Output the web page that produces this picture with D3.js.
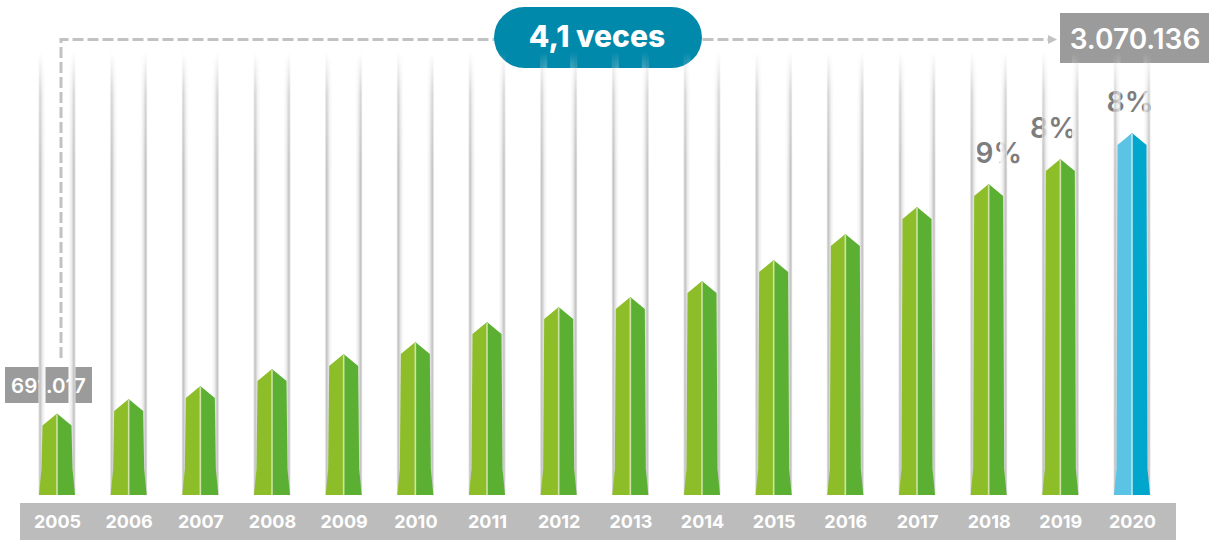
<!DOCTYPE html>
<html>
<head>
<meta charset="utf-8">
<script src="https://cdn.jsdelivr.net/npm/d3@7"></script>
<style>
  html, body { margin: 0; padding: 0; background: #ffffff; }
  svg { display: block; }
</style>
</head>
<body>
<svg id="chart" width="1209" height="540"></svg>
<script>
// ---- data ----
const years = ["2005","2006","2007","2008","2009","2010","2011","2012","2013","2014","2015","2016","2017","2018","2019","2020"];
const visitors = [691017, 814000, 924000, 1069000, 1196000, 1298000, 1467000, 1595000, 1679000, 1815000, 1993000, 2214000, 2443000, 2638000, 2850000, 3070136];
const growthLabels = ["","","","","","","","","","","","","","9%","8%","8%"];
const firstLabel = "691.017";
const lastLabel = "3.070.136";
const multiplierLabel = "4,1 veces";
const highlightYear = "2020";

// ---- layout ----
const W = 1209, H = 540;
const baseY = 495;
const svg = d3.select("#chart");
const font = "Inter, 'DejaVu Sans', sans-serif";

const x = d3.scalePoint().domain(years).range([57, 1132]);
const y = d3.scaleLinear().domain([0, 3070136]).range([baseY, 133]);

const defs = svg.append("defs");
function edgeGrad(id, x1, x2) {
  const g = defs.append("linearGradient").attr("id", id).attr("x1", x1).attr("x2", x2).attr("y1", "0").attr("y2", "0");
  g.append("stop").attr("offset", 0).attr("stop-color", "#e4e4e4");
  g.append("stop").attr("offset", 0.22).attr("stop-color", "#c2c2c2");
  g.append("stop").attr("offset", 0.6).attr("stop-color", "#eeeeee");
  g.append("stop").attr("offset", 1).attr("stop-color", "#ffffff");
}
edgeGrad("edgeL", "0", "1");
edgeGrad("edgeR", "1", "0");
// vertical fade mask
const mg = defs.append("linearGradient").attr("id", "fadeV").attr("gradientUnits", "userSpaceOnUse")
  .attr("x1", 0).attr("x2", 0).attr("y1", 52).attr("y2", 170);
mg.append("stop").attr("offset", 0).attr("stop-color", "#000");
mg.append("stop").attr("offset", 0.35).attr("stop-color", "#aaa");
mg.append("stop").attr("offset", 1).attr("stop-color", "#fff");
defs.append("mask").attr("id", "tubeMask").attr("maskUnits", "userSpaceOnUse")
  .attr("x", 0).attr("y", 0).attr("width", W).attr("height", H)
  .append("rect").attr("width", W).attr("height", H).attr("fill", "url(#fadeV)");

// ---- dashed connector ----
const x0 = x(years[0]) + 4;
const lineY = 39.5;
svg.append("path")
  .attr("d", `M${x0},358 V${lineY} H1048`)
  .attr("fill", "none").attr("stroke", "#c2c2c2").attr("stroke-width", 3)
  .attr("stroke-dasharray", "11,4");
svg.append("path")
  .attr("d", `M1048,${lineY - 4.5} L1057,${lineY} L1048,${lineY + 4.5} Z`)
  .attr("fill", "#c2c2c2");

// ---- multiplier pill ----
const pill = svg.append("g");
pill.append("rect").attr("x", 494).attr("y", 7).attr("width", 208).attr("height", 61)
  .attr("rx", 30.5).attr("fill", "#0089ab");
pill.append("text").attr("x", 597).attr("y", 47).attr("text-anchor", "middle")
  .attr("font-family", font).attr("font-weight", 800).attr("font-size", 30)
  .attr("fill", "#ffffff").text(multiplierLabel);

// ---- last value box ----
svg.append("rect").attr("x", 1060).attr("y", 13).attr("width", 160).attr("height", 50).attr("fill", "#9b9b9b");
svg.append("text").attr("x", 1135).attr("y", 48.5).attr("text-anchor", "middle")
  .attr("font-family", font).attr("font-weight", 600).attr("font-size", 28)
  .attr("fill", "#ffffff").text(lastLabel);

// ---- first value box ----
svg.append("rect").attr("x", 5).attr("y", 367).attr("width", 87).attr("height", 36).attr("fill", "#9b9b9b");
svg.append("text").attr("x", 48.5).attr("y", 392.5).attr("text-anchor", "middle")
  .attr("font-family", font).attr("font-weight", 600).attr("font-size", 20.5)
  .attr("fill", "#ffffff").text(firstLabel);

// ---- growth labels ----
const pctShift = {"2018": 10, "2019": -7, "2020": -2};
svg.append("g").selectAll("text")
  .data(years.map((yr, i) => ({yr, v: visitors[i], t: growthLabels[i]})).filter(d => d.t))
  .join("text")
  .attr("x", d => x(d.yr) + (pctShift[d.yr] || 0))
  .attr("y", d => y(d.v) - 21)
  .attr("text-anchor", "middle")
  .attr("font-family", font).attr("font-weight", 600).attr("font-size", 28.5)
  .attr("fill", "#7d7d7d")
  .text(d => d.t);

// ---- tubes ----
const tubeHalf = 18.5, edgeW = 7;
const tubes = svg.append("g").attr("mask", "url(#tubeMask)");
years.forEach(yr => {
  const cx = x(yr);
  tubes.append("rect").attr("x", cx - tubeHalf).attr("y", 48).attr("width", edgeW).attr("height", baseY - 48)
    .attr("fill", "url(#edgeL)");
  tubes.append("rect").attr("x", cx + tubeHalf - edgeW).attr("y", 48).attr("width", edgeW).attr("height", baseY - 48)
    .attr("fill", "url(#edgeR)");
});

// ---- bars ----
const colors = {
  normal: {l: "#8dbd28", r: "#5bb033", mid: "#cfe3a6"},
  hi: {l: "#5bc3e3", r: "#00a6cb", mid: "#bfe7f3"}
};
const bars = svg.append("g");
years.forEach((yr, i) => {
  const cx = x(yr);
  const top = y(visitors[i]);
  const sh = top + 12;
  const c = yr === highlightYear ? colors.hi : colors.normal;
  const left = `M${cx},${baseY} L${cx - 18},${baseY} L${cx - 15.5},${baseY - 26} L${cx - 14.5},${sh} L${cx},${top} Z`;
  const right = `M${cx},${baseY} L${cx + 18},${baseY} L${cx + 15.5},${baseY - 26} L${cx + 14.5},${sh} L${cx},${top} Z`;
  bars.append("path").attr("d", left).attr("fill", c.l);
  bars.append("path").attr("d", right).attr("fill", c.r);
  bars.append("line").attr("x1", cx).attr("x2", cx).attr("y1", top + 1).attr("y2", baseY)
    .attr("stroke", c.mid).attr("stroke-width", 1.6);
});

// ---- axis band ----
svg.append("rect").attr("x", 20).attr("y", 503).attr("width", 1156).attr("height", 40).attr("fill", "#bcbcbc");
const axis = d3.axisBottom(x).tickSize(0).tickPadding(0);
const ag = svg.append("g").attr("transform", "translate(0,515)").call(axis);
ag.select(".domain").remove();
ag.selectAll("text")
  .attr("font-family", font).attr("font-weight", 700).attr("font-size", 18)
  .attr("fill", "#ffffff").attr("dy", "0.71em").attr("y", 0);
</script>
</body>
</html>
